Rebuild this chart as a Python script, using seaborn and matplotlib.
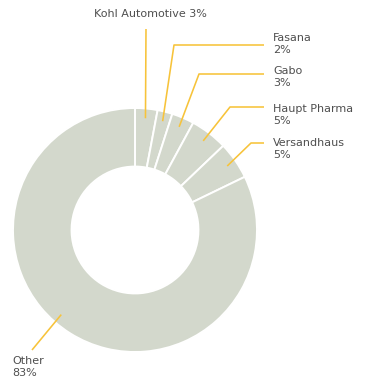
import numpy as np
import matplotlib
matplotlib.use("Agg")
import matplotlib.pyplot as plt
import seaborn as sns

# ---- data ----
labels = ["Kohl Automotive", "Fasana", "Gabo", "Haupt Pharma", "Versandhaus", "Other"]
values = [3, 2, 3, 5, 5, 83]
pct_text = ["3%", "2%", "3%", "5%", "5%", "83%"]

sns.set_theme(style="white")
plt.rcParams['font.family'] = ['DejaVu Sans']

W, H = 367, 379
fig = plt.figure(figsize=(W / 100, H / 100), dpi=100)
cx, cy, R = 135, 230, 122  # pixel layout of pie
ax = fig.add_axes([(cx - R) / W, (H - cy - R) / H, 2 * R / W, 2 * R / H])

wedge_color = "#d3d8cc"
line_color = "#f7c33a"
text_color = "#4f4f4f"

wedges, _ = ax.pie(values, startangle=90, counterclock=False,
                   colors=[wedge_color] * len(values),
                   wedgeprops=dict(width=0.48, edgecolor="white", linewidth=1.4))
ax.set_xlim(-1, 1)
ax.set_ylim(-1, 1)
ax.axis("off")

def px(x, y):
    return (x - cx) / R, (cy - y) / R

# layout: elbow point (pixel), line end (pixel), text anchor (pixel)
layout = [
    dict(elbow=(146, 29), end=None, text=(150, 14), ha="center", oneline=True, shift=0),
    dict(elbow=(174, 45), end=(264, 45), text=(273, 44), ha="left", oneline=False, shift=0),
    dict(elbow=(199, 74), end=(264, 74), text=(273, 77), ha="left", oneline=False, shift=0),
    dict(elbow=(230, 107), end=(264, 107), text=(273, 115), ha="left", oneline=False, shift=0),
    dict(elbow=(251, 143), end=(264, 143), text=(273, 149), ha="left", oneline=False, shift=0),
    dict(elbow=(32, 350), end=None, text=(12, 367), ha="left", oneline=False, shift=-9),
]

for w, lab, pt, lay in zip(wedges, labels, pct_text, layout):
    ang = np.deg2rad((w.theta1 + w.theta2) / 2 + lay["shift"])
    ax_, ay_ = 0.92 * np.cos(ang), 0.92 * np.sin(ang)
    ex, ey = px(*lay["elbow"])
    xs, ys = [ax_, ex], [ay_, ey]
    if lay["end"] is not None:
        tx, ty = px(*lay["end"])
        xs.append(tx); ys.append(ty)
    ax.plot(xs, ys, color=line_color, lw=1.15, clip_on=False,
            solid_capstyle="butt")
    txt = f"{lab} {pt}" if lay["oneline"] else f"{lab}\n{pt}"
    tx, ty = px(*lay["text"])
    ax.text(tx, ty, txt, ha=lay["ha"], va="center", fontsize=8,
            color=text_color, linespacing=1.3, clip_on=False)

fig.savefig("out.png", dpi=100)
